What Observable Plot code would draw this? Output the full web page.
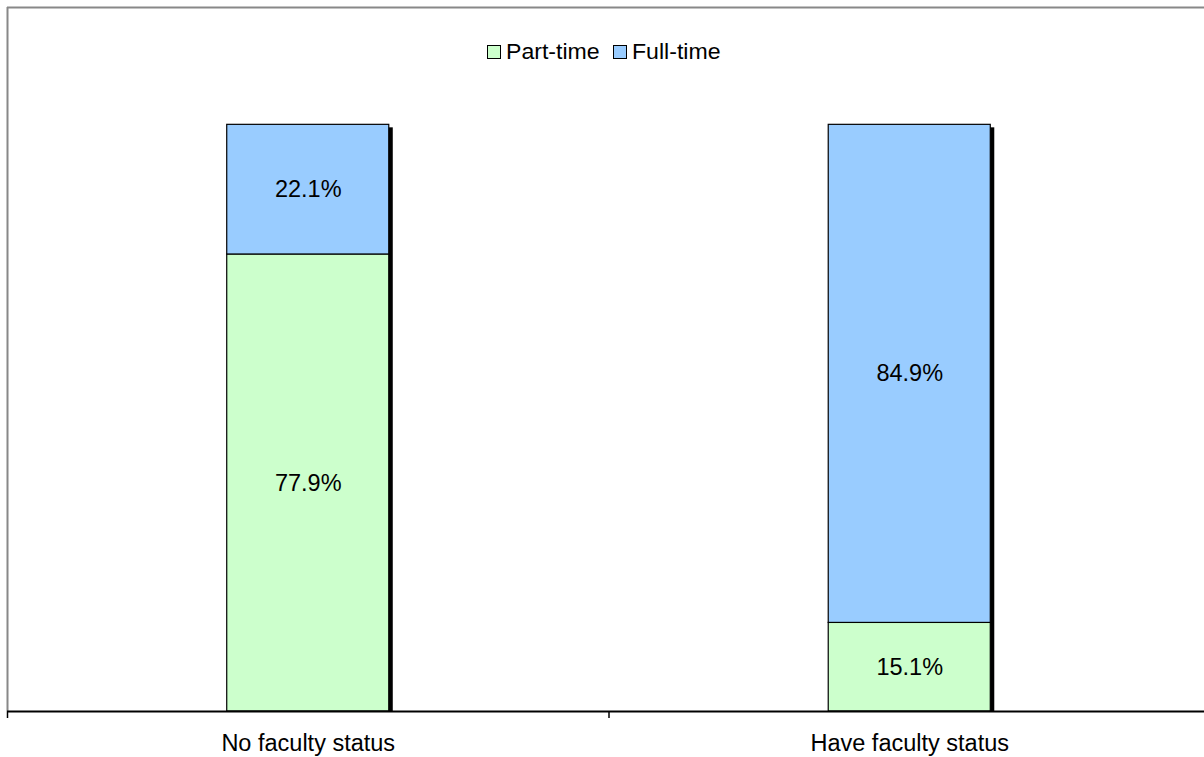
<!DOCTYPE html>
<html>
<head>
<meta charset="utf-8">
<script src="https://cdn.jsdelivr.net/npm/d3@7"></script>
<script src="https://cdn.jsdelivr.net/npm/@observablehq/plot@0.6"></script>
<style>
  html, body { margin: 0; padding: 0; background: #fff; }
  #chart { position: relative; width: 1204px; height: 757px; overflow: hidden;
           font-family: "Liberation Sans", Arial, sans-serif; }
  #legend { position: absolute; top: 39px; left: 0; width: 1213px; display: flex;
            justify-content: center; align-items: center; font-size: 22px; color: #000; }
  .item { display: flex; align-items: center; margin: 0 4px; }
  .swatch { width: 12px; height: 12px; border: 1.5px solid #000; margin-right: 5px; }
  .label { display: inline-block; transform: scaleX(1.05); transform-origin: left center; margin-right: 10px; }
</style>
</head>
<body>
<div id="chart"><div id="legend"></div></div>
<script>
// Share of staff by employment type, split by faculty status (percent)
const categories = ["No faculty status", "Have faculty status"];
const series = ["Part-time", "Full-time"];
const partTime = [77.9, 15.1];
const fullTime = [22.1, 84.9];
const seriesColors = ["#CCFFCC", "#99CCFF"];

// Half the bar width, in category-index units
const half = 0.1347;

const rows = categories.flatMap((c, i) => [
  {i, category: c, series: series[0], value: partTime[i]},
  {i, category: c, series: series[1], value: fullTime[i]}
]);
const totals = categories.map((c, i) => ({i, total: partTime[i] + fullTime[i]}));

const font = '"Liberation Sans", Arial, sans-serif';

const chart = Plot.plot({
  width: 1204,
  height: 757,
  marginTop: 7,
  marginBottom: 46,
  marginLeft: 7,
  marginRight: 0,
  style: {fontFamily: font, background: "#fff", overflow: "hidden"},
  x: {domain: [0, categories.length], range: [7, 1210]},
  y: {domain: [0, 120], axis: null},
  color: {domain: series, range: seriesColors},
  marks: [
    // plot area border (top and left)
    Plot.ruleY([120], {stroke: "#888", strokeWidth: 2}),
    Plot.ruleX([0], {stroke: "#888", strokeWidth: 2}),
    // drop shadow behind each stacked bar
    Plot.rectY(totals, {
      x1: d => d.i + 0.5 - half, x2: d => d.i + 0.5 + half,
      y: "total", fill: "#000", dx: 4, insetTop: 3
    }),
    Plot.rectY(rows, {
      x1: d => d.i + 0.5 - half, x2: d => d.i + 0.5 + half,
      y: "value", fill: "series", z: "series", stroke: "#000", strokeWidth: 1.2
    }),
    Plot.text(rows, Plot.stackY({
      x: d => d.i + 0.5, y: "value", z: "series",
      text: d => d.value.toFixed(1) + "%", fontSize: 23.5, fill: "#000"
    })),
    Plot.ruleY([0], {stroke: "#000", strokeWidth: 2}),
    // tick marks between categories
    Plot.axisX({ticks: d3.range(categories.length + 1), tickSize: 7, tickFormat: () => "",
                stroke: "#000", strokeWidth: 1.5}),
    // category labels centred under each bar
    Plot.axisX({ticks: categories.map((c, i) => i + 0.5), tickSize: 0, tickPadding: 23,
                tickFormat: d => categories[Math.floor(d)], fontSize: 23.5, fill: "#000"})
  ]
});
document.getElementById("chart").prepend(chart);

const legend = document.getElementById("legend");
series.forEach((s, k) => {
  const item = document.createElement("div");
  item.className = "item";
  const sw = document.createElement("span");
  sw.className = "swatch";
  sw.style.background = seriesColors[k];
  const lab = document.createElement("span");
  lab.className = "label";
  lab.textContent = s;
  item.append(sw, lab);
  legend.append(item);
});
</script>
</body>
</html>
